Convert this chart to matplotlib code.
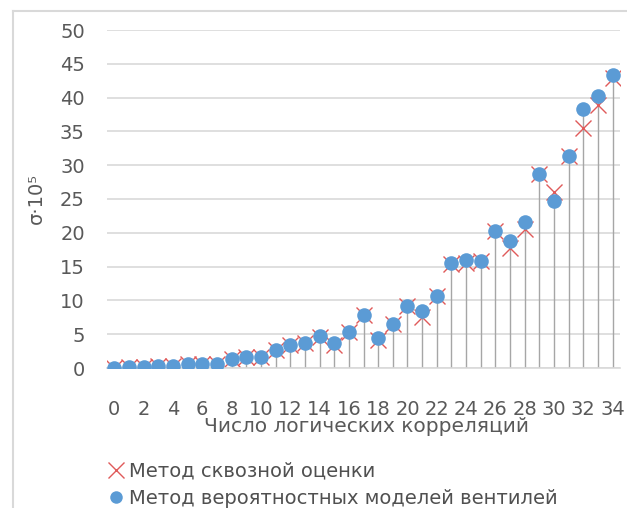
import matplotlib
matplotlib.use('Agg')
import matplotlib.pyplot as plt
from matplotlib.lines import Line2D

plt.rcParams['font.family'] = ['DejaVu Sans']

# число логических корреляций
n_corr = list(range(35))

# метод вероятностных моделей вентилей (синие точки)
sigma_prob = [0.0, 0.1, 0.2, 0.3, 0.3, 0.6, 0.6, 0.6, 1.3, 1.7,
              1.7, 2.6, 3.4, 3.7, 4.7, 3.75, 5.3, 7.9, 4.4, 6.5,
              9.2, 8.4, 10.7, 15.5, 16.0, 15.85, 20.3, 18.8, 21.6, 28.7,
              24.7, 31.3, 38.3, 40.2, 43.4]

# метод сквозной оценки (красные крестики)
sigma_thru = [0.0, 0.1, 0.2, 0.3, 0.3, 0.6, 0.6, 0.6, 1.3, 1.7,
              1.7, 2.6, 3.4, 3.7, 4.6, 3.4, 5.3, 7.9, 4.2, 6.5,
              9.2, 7.6, 10.7, 15.4, 15.6, 15.85, 20.3, 17.7, 20.5, 28.7,
              26.0, 31.3, 35.5, 38.9, 42.9]

x_ticks = list(range(0, 35, 2))
y_ticks = list(range(0, 51, 5))

text_col = '#595959'
blue = '#5B9BD5'
red = '#E05A5A'

fig = plt.figure(figsize=(6.27, 5.08), dpi=100)
ax = fig.add_axes([107/627, 1 - 368/508, 513/627, 338/508])

# outer chart border
fig.add_artist(Line2D([13/627, 13/627], [0, 1 - 11/508], color='#D9D9D9', lw=1.5))
fig.add_artist(Line2D([13/627, 1], [1 - 11/508, 1 - 11/508], color='#D9D9D9', lw=1.5))

ax.vlines(n_corr, 0, sigma_prob, color='#A6A6A6', lw=1.0, zorder=1)
ax.plot(n_corr, sigma_thru, linestyle='none', marker='x', color=red,
        markersize=12, markeredgewidth=1.0, zorder=2)
ax.plot(n_corr, sigma_prob, linestyle='none', marker='o', color=blue,
        markersize=10.5, markeredgewidth=0, zorder=3)

ax.set_xlim(-0.5, 34.5)
ax.set_ylim(0, 50)
ax.set_xticks(x_ticks)
ax.set_yticks(y_ticks)
ax.tick_params(length=0, labelsize=14, colors=text_col)
ax.tick_params(axis='y', pad=16)
ax.tick_params(axis='x', pad=23)
ax.grid(axis='y', color='#D9D9D9', lw=1.2)
ax.set_axisbelow(True)
for s in ['top', 'right', 'left']:
    ax.spines[s].set_visible(False)
ax.spines['bottom'].set_color('#D9D9D9')
ax.spines['bottom'].set_linewidth(1.2)

fig.text(366/627, 1 - 427/508, 'Число логических корреляций', fontsize=14.5,
         color=text_col, ha='center', va='center')
ax.set_ylabel('σ·10⁵', fontsize=14, color=text_col)
ax.yaxis.set_label_coords(-0.12, 0.5)

handles = [
    Line2D([], [], linestyle='none', marker='x', color=red, markersize=11, markeredgewidth=1.0),
    Line2D([], [], linestyle='none', marker='o', color=blue, markersize=9, markeredgewidth=0),
]
fig.legend(handles, ['Метод сквозной оценки', 'Метод вероятностных моделей вентилей'],
           loc='upper left', bbox_to_anchor=(98/627, 1 - 452/508), frameon=False,
           fontsize=14, labelcolor='#505050', handlelength=0.8, handletextpad=0.3,
           labelspacing=0.4, borderpad=0)

fig.savefig('out.png', dpi=100)
